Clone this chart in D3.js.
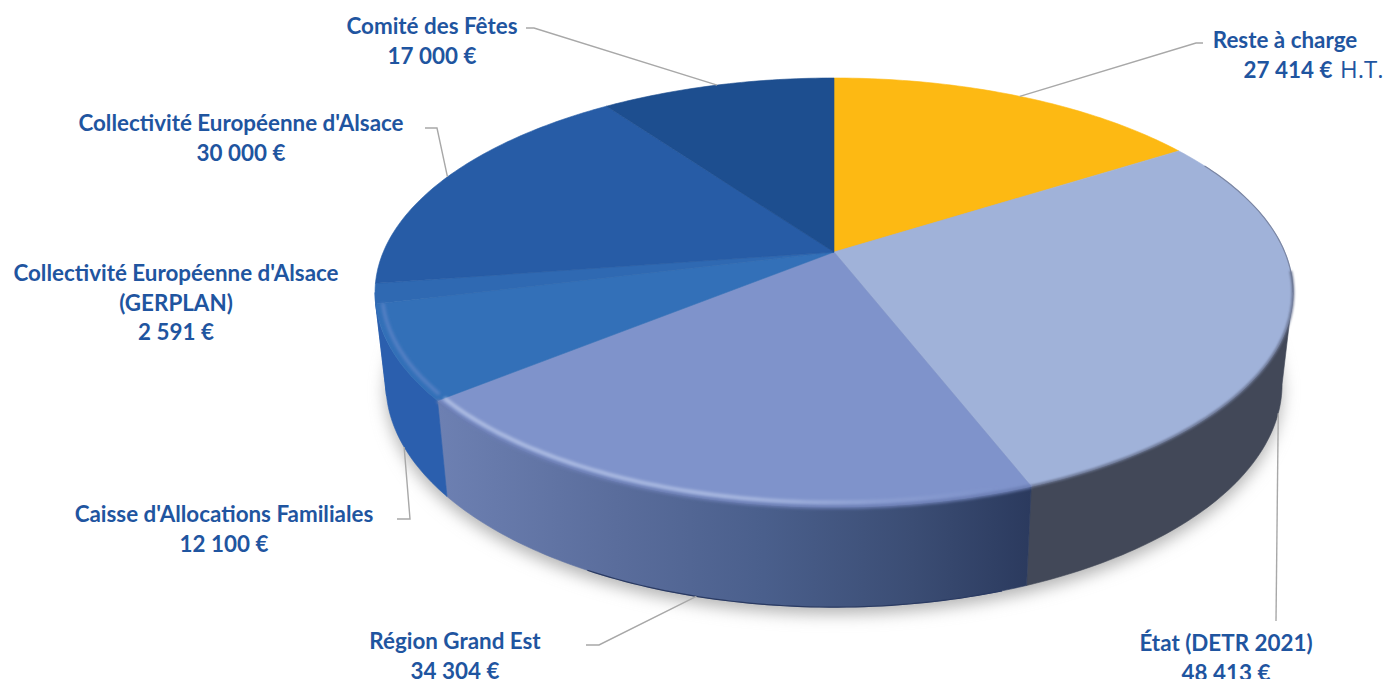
<!DOCTYPE html>
<html>
    <head>
        <title>Plan de financement</title>
        <script src="https://d3js.org/d3.v7.min.js"></script>
        <style>
            body { margin: 0; background: white; }
            svg { display: block; }
            .lbl { font-family: Lato, "Open Sans", sans-serif; font-weight: 700; font-size: 22.4px; fill: #1f55a0; text-anchor: middle; }
            .ht { font-family: "Open Sans", sans-serif; font-weight: 400; font-size: 24px; fill: #1f55a0; }
            .leader { fill: none; stroke: #a8a8a8; stroke-width: 1.4; }
        </style>
    </head>
    <body>
        <svg id="pie" width="1387" height="679"></svg>
        <script>
            const categories = ["Reste à charge", "État (DETR 2021)", "Région Grand Est", "Caisse d'Allocations Familiales",
                                "Collectivité Européenne d'Alsace (GERPLAN)", "Collectivité Européenne d'Alsace", "Comité des Fêtes"];
            const values = [27414, 48413, 34304, 12100, 2591, 30000, 17000];
            const valueLabels = ["27 414 €", "48 413 €", "34 304 €", "12 100 €", "2 591 €", "30 000 €", "17 000 €"];

            const topColors = ["#fdb913", "#a0b2d9", "#7f93cb", "#3370b8", "#2f69b2", "#275ca6", "#1d4e8f"];
            const wallColors = [null, "#424858", "url(#regionWall)", "#2b5fae", "#2b5fae", null, null];

            // label lines, center x, first baseline
            const labelLayout = [
                {lines: ["Reste à charge"], x: 1285, y: 48},
                {lines: ["État (DETR 2021)"], x: 1226, y: 651},
                {lines: ["Région Grand Est"], x: 455, y: 649},
                {lines: ["Caisse d'Allocations Familiales"], x: 224, y: 522},
                {lines: ["Collectivité Européenne d'Alsace", "(GERPLAN)"], x: 176, y: 281},
                {lines: ["Collectivité Européenne d'Alsace"], x: 241, y: 131},
                {lines: ["Comité des Fêtes"], x: 432, y: 34}
            ];
            // leader elbows by slice, the end on the pie is computed
            const leaderLayout = [
                [[1203, 43], [1196, 43]],
                [[1276, 621]],
                [[586, 645], [599, 645]],
                [[397, 519], [410, 519]],
                null,
                [[425, 128], [437, 128]],
                [[526, 28], [534, 28]]
            ];

            const svg = d3.select("#pie");
            const cx = 834;
            const tilt = 0.189;

            // perspective projection of the disc, angle clockwise from the top
            const projTop = (a, r = 1) => {
                const u = r * Math.sin(a), v = -r * Math.cos(a), w = 1 - tilt * v;
                return [cx + 450.7 * u / w, 252 + 206.9 * v / w];
            };
            const projBottom = (a, r = 1) => {
                const u = r * Math.sin(a), v = -r * Math.cos(a), w = 1 - tilt * v;
                return [cx + 440 * u / w, 342 + 215 * v / w];
            };
            const apex = projTop(0, 0);

            const samples = (a0, a1) => {
                const n = Math.max(2, Math.ceil(Math.abs(a1 - a0) * 60));
                return d3.range(n + 1).map(i => a0 + (a1 - a0) * i / n);
            };
            const line = d3.line();

            const arcs = d3.pie().sort(null).value(d => d)(values);
            const visibleFrom = Math.PI - Math.acos(tilt);
            const visibleTo = 2 * Math.PI - visibleFrom;

            const defs = svg.append("defs");
            [["blur7", 8], ["blur3", 2.6], ["blur2", 1.8], ["blur1", 1.1]].forEach(([id, s]) => {
                defs.append("filter").attr("id", id)
                    .attr("x", "-10%").attr("y", "-10%").attr("width", "120%").attr("height", "120%")
                    .append("feGaussianBlur").attr("stdDeviation", s);
            });

            const regionGradient = defs.append("linearGradient").attr("id", "regionWall")
                .attr("gradientUnits", "userSpaceOnUse")
                .attr("x1", projTop(arcs[2].endAngle)[0]).attr("x2", projTop(arcs[2].startAngle)[0])
                .attr("y1", 0).attr("y2", 0);
            [[0, "#6d80b2"], [0.3, "#5a6d9c"], [0.55, "#4a5f8c"], [0.8, "#3b4d74"], [1, "#2b3a5e"]].forEach(([o, c]) => {
                regionGradient.append("stop").attr("offset", o).attr("stop-color", c);
            });
            const glow = defs.append("linearGradient").attr("id", "regionGlow")
                .attr("gradientUnits", "userSpaceOnUse")
                .attr("x1", 441).attr("x2", 1000).attr("y1", 0).attr("y2", 0);
            [[0, 0.8], [0.55, 0.7], [0.8, 0.2], [1, 0]].forEach(([o, a]) => {
                glow.append("stop").attr("offset", o).attr("stop-color", "#bccaea").attr("stop-opacity", a);
            });

            // Shadow under the pie
            const fullCircle = samples(0, 2 * Math.PI);
            svg.append("path")
               .attr("d", line(fullCircle.map(a => { const p = projBottom(a); return [p[0], p[1] + 7]; })) + "Z")
               .attr("fill", "#b4b4b4")
               .attr("filter", "url(#blur7)");

            // Walls, only the front part of the disc shows
            const wallGroup = svg.append("g");
            arcs.forEach((d, i) => {
                if (!wallColors[i]) return;
                const a0 = Math.max(d.startAngle, visibleFrom);
                const a1 = Math.min(d.endAngle, visibleTo);
                if (a1 <= a0) return;
                const pts = samples(a0, a1).map(a => projTop(a))
                    .concat(samples(a0, a1).reverse().map(a => projBottom(a)));
                wallGroup.append("path")
                         .attr("d", line(pts) + "Z")
                         .attr("fill", wallColors[i])
                         .attr("stroke", wallColors[i])
                         .attr("stroke-width", 0.6);
            });
            // dark lower edge of the région wall
            wallGroup.append("path")
                     .attr("d", line(samples(arcs[2].startAngle + 0.05, arcs[2].endAngle - 0.4).map(a => projBottom(a))))
                     .attr("fill", "none")
                     .attr("stroke", "#2a3a62")
                     .attr("stroke-width", 1.2);

            // Top of the pie
            const topGroup = svg.append("g");
            arcs.forEach((d, i) => {
                const pts = [apex].concat(samples(d.startAngle, d.endAngle).map(a => projTop(a)));
                topGroup.append("path")
                        .attr("d", line(pts) + "Z")
                        .attr("fill", topColors[i])
                        .attr("stroke", topColors[i])
                        .attr("stroke-width", 0.6);
            });

            // Bevel: soft rim and inner light along the front edge
            const bevel = svg.append("g").attr("fill", "none");
            bevel.append("path")
                 .attr("d", line(samples(arcs[1].startAngle + 0.1, visibleFrom).map(a => projTop(a))))
                 .attr("stroke", "#7b86a3").attr("stroke-width", 1.2);
            bevel.append("path")
                 .attr("d", line(samples(visibleFrom - 0.1, arcs[1].endAngle).map(a => projTop(a))))
                 .attr("stroke", "#6a7592").attr("stroke-width", 2.6).attr("filter", "url(#blur1)");
            bevel.append("path")
                 .attr("d", line(samples(arcs[2].startAngle, arcs[2].endAngle).map(a => projTop(a))))
                 .attr("stroke", "#6a7db2").attr("stroke-width", 3.5).attr("filter", "url(#blur2)");
            bevel.append("path")
                 .attr("d", line(samples(arcs[2].startAngle + 0.04, arcs[2].endAngle).map(a => projTop(a, 0.985))))
                 .attr("stroke", "url(#regionGlow)").attr("stroke-width", 3.6).attr("filter", "url(#blur2)");
            bevel.append("path")
                 .attr("d", line(samples(arcs[3].startAngle + 0.02, arcs[3].endAngle).map(a => projTop(a, 0.985))))
                 .attr("stroke", "#5480c4").attr("stroke-width", 3.6).attr("filter", "url(#blur2)");

            // Leader lines, the ones ending on the wall use the lower curve
            const wallSlices = [1, 2, 3];
            arcs.forEach((d, i) => {
                if (!leaderLayout[i]) return;
                const mid = (d.startAngle + d.endAngle) / 2;
                const end = wallSlices.includes(i) ? projBottom(mid) : projTop(mid);
                svg.append("path").attr("class", "leader")
                   .attr("d", line(leaderLayout[i].concat([end])));
            });

            // Labels
            labelLayout.forEach((l, i) => {
                const t = svg.append("text").attr("class", "lbl");
                l.lines.concat([valueLabels[i]]).forEach((s, j) => {
                    t.append("tspan").attr("x", l.x).attr("y", l.y + j * 29.6).text(s);
                });
            });
            svg.select("text.lbl").select("tspan:last-child").attr("x", 1288);
            svg.append("text").attr("class", "ht").attr("x", 1340).attr("y", 78).text("H.T.");
        </script>
    </body>
</html>
